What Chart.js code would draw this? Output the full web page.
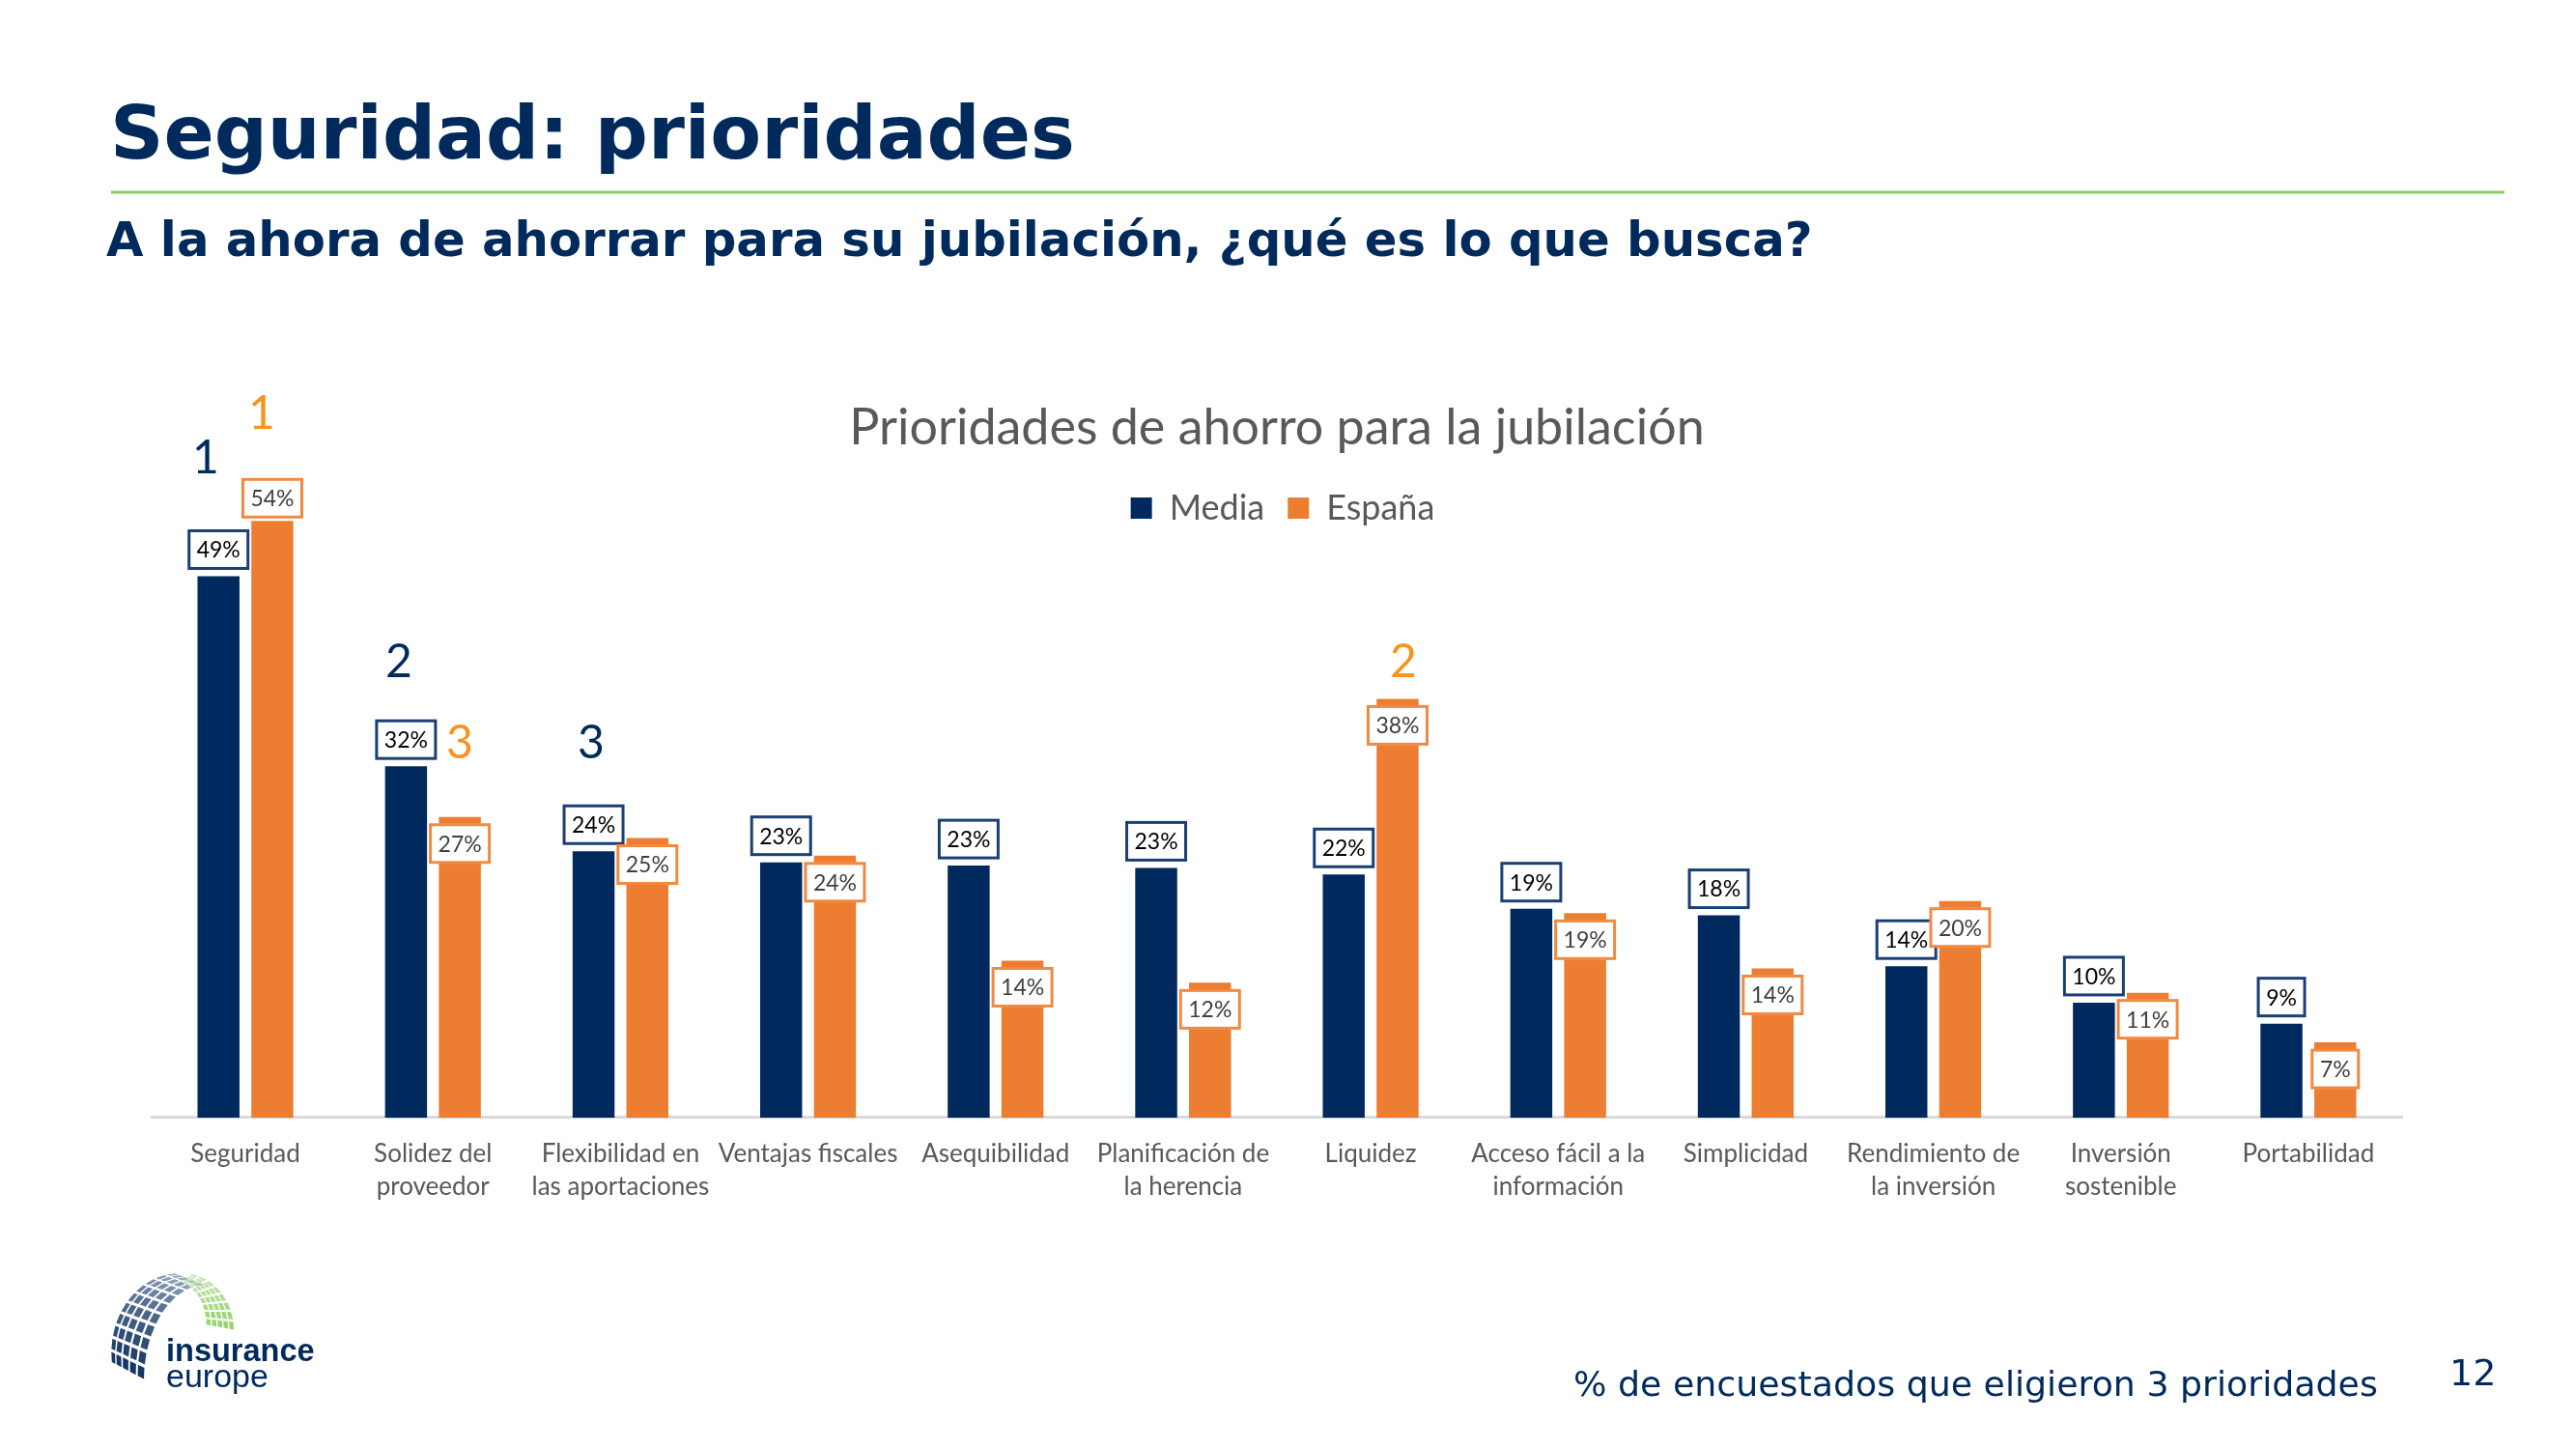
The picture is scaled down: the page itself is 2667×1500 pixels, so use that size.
<!DOCTYPE html>
<html><head><meta charset="utf-8">
<style>
html,body{margin:0;padding:0;background:#fff;width:2667px;height:1500px;overflow:hidden}
#c{position:absolute;left:0;top:0}
#o{position:absolute;left:0;top:0}
</style>
<script src="https://cdn.jsdelivr.net/npm/chart.js@4"></script>
</head><body>
<canvas id="c" width="2667" height="1500" style="width:2667px;height:1500px"></canvas>
<svg id="o" width="2667" height="1500" xmlns="http://www.w3.org/2000/svg">
 <text x="114" y="164" font-family="DejaVu Sans" font-weight="700" font-size="77" fill="#002A5C">Seguridad: prioridades</text>
 <rect x="115" y="197.500" width="2478" height="3" fill="#8CCB66"/>
 <text x="110" y="265" font-family="DejaVu Sans" font-weight="700" font-size="49.75" fill="#002A5C">A la ahora de ahorrar para su jubilación, ¿qué es lo que busca?</text>
 <g font-family="Lato" font-size="48" text-anchor="middle">
  <text x="213" y="490" fill="#002A5C">1</text><text x="271" y="444" fill="#F7931E">1</text>
  <text x="413" y="701" fill="#002A5C">2</text><text x="476" y="785" fill="#F7931E">3</text>
  <text x="612" y="785" fill="#002A5C">3</text><text x="1453" y="701" fill="#F7931E">2</text>
 </g>
 <text x="1629" y="1445" font-family="DejaVu Sans" font-size="36.300" fill="#002A5C">% de encuestados que eligieron 3 prioridades</text>
 <text x="2536" y="1434" font-family="DejaVu Sans" font-size="38" fill="#002A5C">12</text>
 <g id="logo"></g>
 <text x="172" y="1409" font-family="Liberation Sans" font-weight="700" font-size="32.500" fill="#002A5C">insurance</text>
 <text x="172" y="1436" font-family="Liberation Sans" font-size="34" fill="#002A5C">europe</text>
</svg>
<script>
const categories=[["Seguridad"],["Solidez del","proveedor"],["Flexibilidad en","las aportaciones"],["Ventajas fiscales"],["Asequibilidad"],["Planificación de","la herencia"],["Liquidez"],["Acceso fácil a la","información"],["Simplicidad"],["Rendimiento de","la inversión"],["Inversión","sostenible"],["Portabilidad"]];
const mediaValues=[49,31.8,24.1,23.1,22.8,22.6,22.0,18.9,18.3,13.7,10.4,8.5];
const espanaValues=[54,27.2,25.3,23.7,14.2,12.2,37.9,18.5,13.5,19.6,11.3,6.8];
const seriesNames=["Media","España"];
const chartTitle="Prioridades de ahorro para la jubilación";
const yMax=60;

// data-label boxes: Media always sits above its bar; España above for the tallest bar, inside the top otherwise
const boxLabels={id:'boxLabels',afterDatasetsDraw(chart){
  const ctx=chart.ctx;const styles=[{b:'#1B3F73',t:'#000000'},{b:'#F08A42',t:'#404040'}];
  const H=41,PAD=9;
  ctx.save();ctx.font='23px Lato';ctx.textAlign='center';ctx.textBaseline='middle';
  const spainMax=Math.max(...espanaValues);
  [0,1].forEach(ds=>{
    const meta=chart.getDatasetMeta(ds);
    meta.data.forEach((bar,i)=>{
      const v=chart.data.datasets[ds].data[i];const txt=Math.round(v)+'%';
      const w=Math.round(ctx.measureText(txt).width)+PAD*2;
      let top;
      if(ds===0) top=bar.y-7-H;
      else top=(v===spainMax)?bar.y-3-H:bar.y+7;
      ctx.fillStyle='#fff';ctx.strokeStyle=styles[ds].b;ctx.lineWidth=3;
      ctx.fillRect(bar.x-w/2,top,w,H);ctx.strokeRect(bar.x-w/2+1,top+1,w-2,H-2);
      ctx.fillStyle=styles[ds].t;ctx.fillText(txt,bar.x,top+H/2+1);
    });
  });
  ctx.restore();
}};
const legendPlace={id:'legendPlace',
  beforeInit(chart){const l=chart.legend;const f=l.fit;l.fit=function(){f.call(this);this.height=0;};},
  afterLayout(chart){const l=chart.legend;l.top=484;l.bottom=590;l.left+=6;l.right+=6;}
};
new Chart(document.getElementById('c'),{type:'bar',
 data:{labels:categories,datasets:[
  {label:seriesNames[0],data:mediaValues,backgroundColor:'#002A5E'},
  {label:seriesNames[1],data:espanaValues,backgroundColor:'#ED7D31'}]},
 plugins:[boxLabels,legendPlace],
 options:{responsive:false,devicePixelRatio:1,animation:false,
  layout:{padding:{left:157,right:180,top:415,bottom:233}},
  datasets:{bar:{categoryPercentage:0.574,barPercentage:0.78}},
  plugins:{tooltip:{enabled:false},
   title:{display:true,text:chartTitle,color:'#595959',font:{family:'Lato',size:52,weight:'400',lineHeight:1.07},padding:{top:0,bottom:0}},
   legend:{position:'top',labels:{color:'#595959',font:{family:'Lato',size:36},boxWidth:22,boxHeight:22,padding:24}}},
  scales:{
   y:{display:false,min:0,max:yMax},
   x:{grid:{display:false,drawTicks:false},border:{display:true,color:'#D9D9D9',width:3},
      ticks:{color:'#595959',padding:21,maxRotation:0,autoSkip:false,font:{family:'Lato',size:26,lineHeight:1.31}}}
  }}});

// logo tiles (decorative)
(function(){
 const g=document.getElementById('logo');const NS='http://www.w3.org/2000/svg';
 const lerp=(a,b,t)=>a+(b-a)*t;const rad=Math.PI/180;
 function mix(c1,c2,t){return 'rgb('+c1.map((c,i)=>Math.round(lerp(c,c2[i],t))).join(',')+')';}
 function shell(P,rows,cols,colour,vp){
  for(let r=0;r<rows;r++)for(let c=0;c<cols;c++){
   const u0=(r+.12)/rows,u1=(r+.88)/rows;
   const v=x=>Math.pow(x,vp);
   const v0=v((c+.12)/cols),v1=v((c+.88)/cols);
   const pts=[P(u0,v0),P(u0,v1),P(u1,v1),P(u1,v0)];
   const p=document.createElementNS(NS,'polygon');
   p.setAttribute('points',pts.map(q=>q[0].toFixed(1)+','+q[1].toFixed(1)).join(' '));
   p.setAttribute('fill',colour((r+.5)/rows,(c+.5)/cols));g.appendChild(p);
  }
 }
 shell((u,v)=>{
   const ao=lerp(188,92,u)*rad,ai=lerp(180,92,u)*rad;
   const o=[185+70*Math.cos(ao),1400-82*Math.sin(ao)],i=[215+65*Math.cos(ai),1430-100*Math.sin(ai)];
   return [lerp(o[0],i[0],v),lerp(o[1],i[1],v)];
 },10,5,(u,v)=>mix([20,52,96],[160,178,200],Math.pow(u,1.15)),1.25);
 shell((u,v)=>{
   const ao=lerp(0,82,u)*rad,ai=lerp(0,80,u)*rad;
   const o=[190+53*Math.cos(ao),1378-60*Math.sin(ao)],i=[183+30*Math.cos(ai),1372-44*Math.sin(ai)];
   return [lerp(i[0],o[0],v),lerp(i[1],o[1],v)];
 },8,5,(u,v)=>mix([150,212,110],[205,230,190],u),1);
})();
</script>
</body></html>
